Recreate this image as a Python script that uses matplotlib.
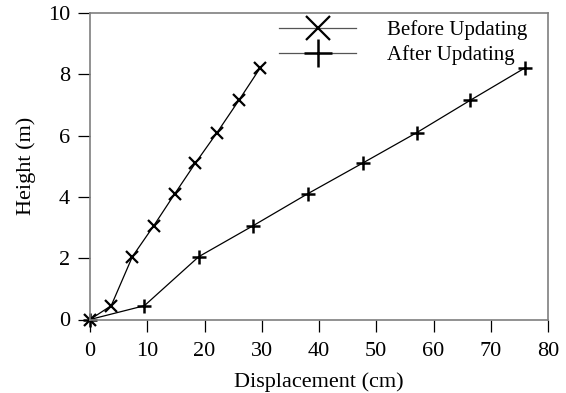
import matplotlib
matplotlib.use("Agg")
import matplotlib.pyplot as plt

# Lateral displacement profiles along the height
height_m = [0, 0.45, 2.05, 3.05, 4.1, 5.1, 6.1, 7.15, 8.2]
disp_before_cm = [0, 3.7, 7.4, 11.1, 14.8, 18.4, 22.2, 26.0, 29.7]
disp_after_cm = [0, 9.5, 19.0, 28.4, 38.0, 47.6, 57.1, 66.4, 75.9]
series_labels = ["Before Updating", "After Updating"]
x_ticks = [0, 10, 20, 30, 40, 50, 60, 70, 80]
y_ticks = [0, 2, 4, 6, 8, 10]

plt.rcParams["font.family"] = ["Liberation Serif", "DejaVu Serif"]

fig = plt.figure(figsize=(5.66, 3.93), dpi=100)
ax = fig.add_axes([90 / 566, 1 - 319.5 / 393, 458 / 566, 306.5 / 393])

ax.plot(disp_before_cm, height_m, color="black", linewidth=0.9,
        marker="x", markersize=8.5, markeredgewidth=1.6, clip_on=False,
        label=series_labels[0])
ax.plot(disp_after_cm, height_m, color="black", linewidth=0.9,
        marker="+", markersize=9.5, markeredgewidth=1.8, clip_on=False,
        label=series_labels[1])

ax.set_xlim(0, 80)
ax.set_ylim(0, 10)
ax.set_xticks(x_ticks)
ax.set_yticks(y_ticks)
ax.tick_params(direction="out", length=8.5, width=0.9, color="black",
               labelsize=16)
ax.tick_params(axis="x", pad=8)
ax.tick_params(axis="y", pad=6)
for s in ax.spines.values():
    s.set_color("#7f7f7f")
    s.set_linewidth(1.2)

ax.set_xlabel("Displacement (cm)", fontsize=16, labelpad=8)
ax.set_ylabel("Height (m)", fontsize=16, labelpad=8)

leg = ax.legend(loc="upper left", bbox_to_anchor=(0.413, 0.976), frameon=False,
                fontsize=15, markerscale=2.1, handlelength=3.7,
                labelspacing=0.25, handletextpad=1.5, borderaxespad=0,
                borderpad=0)
for line in leg.get_lines():
    line.set_color("#555555")
    line.set_markeredgecolor("black")
    line.set_linewidth(0.9)

fig.savefig("out.png", dpi=100)
